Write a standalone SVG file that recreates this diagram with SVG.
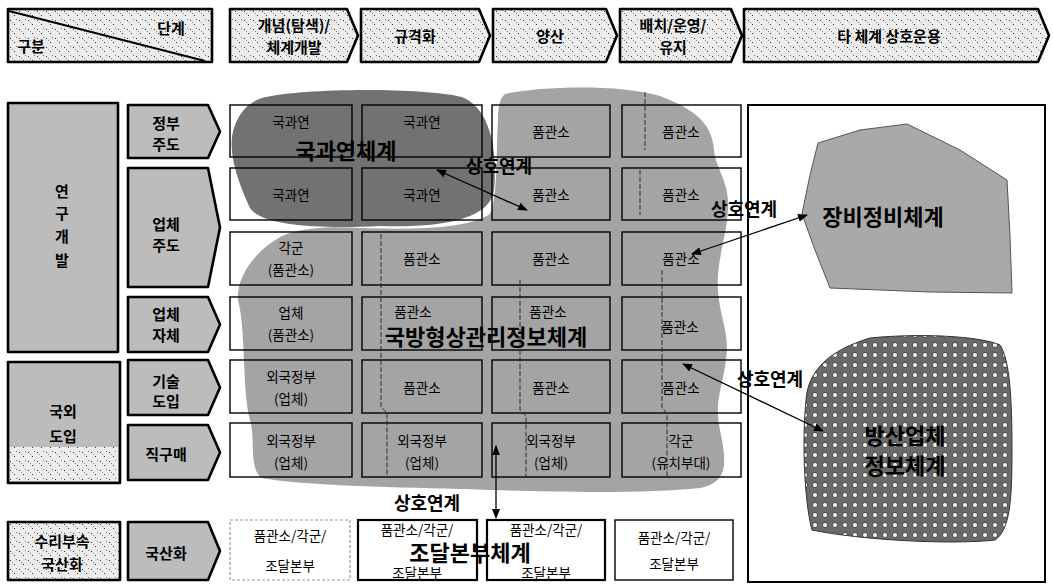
<svg xmlns="http://www.w3.org/2000/svg" width="1053" height="586" viewBox="0 0 1053 586">
<defs>
<style>
text{font-family:'Noto Sans CJK KR','Noto Sans',sans-serif;fill:#000;text-anchor:middle;dominant-baseline:central}
.hd{font-size:15px;font-weight:bold}
.lf{font-size:15px;font-weight:bold}
.cell{fill:none;stroke:#000;stroke-width:1.4}
.ct{font-size:13.5px}
.big{font-size:22px;font-weight:bold}
.lk{font-size:18px;font-weight:bold}
.box{stroke:#000;stroke-width:2.6;stroke-linejoin:round}
.gray{fill:#bcbcbc}
.spk{fill:url(#speckle)}
.conn{fill:none;stroke:#000;stroke-width:1.3;marker-start:url(#ah);marker-end:url(#ah)}
.trace{fill:none;stroke:#222;stroke-width:0.9;stroke-dasharray:5 2}
</style>
<pattern id="speckle" width="9" height="9" patternUnits="userSpaceOnUse">
<rect width="9" height="9" fill="#ececec"/>
<rect x="1" y="2" width="1" height="1" fill="#333"/>
<rect x="5" y="6" width="1" height="1" fill="#333"/>
<rect x="7" y="1" width="1" height="1" fill="#777"/>
<rect x="3" y="4" width="1" height="1" fill="#888"/>
</pattern>
<pattern id="dots" width="10" height="10" patternUnits="userSpaceOnUse">
<rect width="10" height="10" fill="#6a6a6a"/>
<circle cx="5" cy="5" r="2.6" fill="#eeeeee" stroke="#333" stroke-width="0.8"/>
</pattern>
<marker id="ah" viewBox="0 0 10 8" markerWidth="10" markerHeight="8" refX="9" refY="4" markerUnits="userSpaceOnUse" orient="auto-start-reverse">
<path d="M0,0 L10,4 L0,8 Z" fill="#000"/>
</marker>
</defs>
<rect width="1053" height="586" fill="#fff"/>

<!-- header -->
<g id="h-gubun">
<rect class="box spk" x="8" y="9" width="204" height="53"/>
<line x1="9" y1="11" x2="205" y2="61" stroke="#000" stroke-width="2"/>
<text class="hd" x="31" y="45">구분</text>
<text class="hd" x="171" y="27">단계</text>
</g>
<g id="h-concept">
<path class="box spk" d="M230,9 H347 L358,35.5 L347,62 H230 Z"/>
<text class="hd" x="294" y="24">개념(탐색)/</text>
<text class="hd" x="294" y="46">체계개발</text>
</g>
<g id="h-spec">
<path class="box spk" d="M361,9 H479 L490,35.5 L479,62 H361 Z"/>
<text class="hd" x="415" y="35">규격화</text>
</g>
<g id="h-mass">
<path class="box spk" d="M493,9 H606 L617,35.5 L606,62 H493 Z"/>
<text class="hd" x="550" y="35">양산</text>
</g>
<g id="h-deploy">
<path class="box spk" d="M620,9 H731 L742,35.5 L731,62 H620 Z"/>
<text class="hd" x="673" y="24">배치/운영/</text>
<text class="hd" x="673" y="46">유지</text>
</g>
<g id="h-interop">
<path class="box spk" d="M744,9 H1038 L1049,35.5 L1038,62 H744 Z"/>
<text class="hd" x="889" y="35">타 체계 상호운용</text>
</g>

<!-- left column -->
<g id="l-rnd">
<rect class="box gray" x="8" y="103" width="110" height="249"/>
<text class="lf" x="62" y="190">연</text>
<text class="lf" x="62" y="212">구</text>
<text class="lf" x="62" y="235">개</text>
<text class="lf" x="62" y="259">발</text>
</g>
<g id="l-gov">
<path class="box gray" d="M128,105 H208 L220,131.5 L208,158 H128 Z"/>
<text class="lf" x="166" y="122">정부</text>
<text class="lf" x="166" y="143">주도</text>
</g>
<g id="l-ind">
<path class="box gray" d="M128,168 H208 L220,227.5 L208,287 H128 Z"/>
<text class="lf" x="166" y="223">업체</text>
<text class="lf" x="166" y="244">주도</text>
</g>
<g id="l-self">
<path class="box gray" d="M128,297 H208 L220,324.5 L208,352 H128 Z"/>
<text class="lf" x="166" y="313">업체</text>
<text class="lf" x="166" y="334">자체</text>
</g>
<g id="l-foreign">
<rect class="box gray" x="8" y="362" width="112" height="121"/>
<rect x="10" y="447" width="108" height="34" fill="url(#speckle)"/>
<text class="lf" x="63" y="410">국외</text>
<text class="lf" x="63" y="435">도입</text>
</g>
<g id="l-tech">
<path class="box gray" d="M128,360 H208 L220,387.5 L208,415 H128 Z"/>
<text class="lf" x="166" y="380">기술</text>
<text class="lf" x="166" y="400">도입</text>
</g>
<g id="l-buy">
<path class="box gray" d="M128,425 H208 L220,452.5 L208,480 H128 Z"/>
<text class="lf" x="166" y="453">직구매</text>
</g>
<g id="l-parts">
<rect class="box spk" x="8" y="522" width="112" height="58"/>
<text class="lf" x="62" y="540">수리부속</text>
<text class="lf" x="62" y="563">국산화</text>
</g>
<g id="l-local">
<path class="box gray" d="M128,522 H208 L220,551 L208,580 H128 Z"/>
<text class="lf" x="166" y="552">국산화</text>
</g>

<!-- right frame -->
<rect x="748" y="105" width="297" height="477" fill="none" stroke="#000" stroke-width="2"/>

<!-- blobs -->
<g id="b-config">
<path d="M505,94 C540,86 620,84 660,96 C690,108 712,120 714,150 C716,170 730,182 728,210 C726,240 716,262 718,290 C720,320 730,332 726,360 C722,390 714,402 720,430 C726,460 730,482 700,488 C640,495 520,491 460,489 C380,487 300,485 262,478 C248,468 256,440 250,420 C242,390 246,330 238,300 C236,280 252,252 282,236 C300,228 330,226 360,228 C420,230 470,228 490,214 C498,198 496,150 498,120 C498,106 500,98 505,94 Z" fill="#a4a4a4"/>
</g>
<g id="b-add">
<path d="M262,98 C300,88 420,87 462,97 C490,108 498,150 494,190 C490,220 440,228 380,226 C320,229 262,226 250,208 C240,186 226,152 234,128 C240,110 250,102 262,98 Z" fill="#727272"/>
</g>
<g id="b-maint">
<path d="M907,124 L960,150 L1007,180 L1010,236 L1012,293 L930,292 L830,288 L815,250 L802,214 L810,175 L818,143 L860,130 Z" fill="#a9a9a9" stroke="#555" stroke-width="1"/>
</g>
<g id="b-defind">
<path d="M870,338 C920,333 980,336 1000,345 C1010,360 1012,400 1012,450 C1012,500 1010,530 995,540 C950,545 860,540 812,530 C804,500 802,440 806,400 C808,370 830,350 870,338 Z" fill="url(#dots)" stroke="#333" stroke-width="1"/>
</g>

<!-- grid cells -->
<g id="cells">
<g id="c11"><rect class="cell" x="230" y="105" width="122" height="52"/><text class="ct" x="291" y="121">국과연</text></g>
<g id="c12"><rect class="cell" x="362" y="105" width="120" height="52"/><text class="ct" x="422" y="121">국과연</text></g>
<g id="c13"><rect class="cell" x="492" y="105" width="118" height="52"/><text class="ct" x="551" y="131">품관소</text></g>
<g id="c14"><rect class="cell" x="622" y="105" width="119" height="52"/><text class="ct" x="681" y="131">품관소</text></g>
<g id="c21"><rect class="cell" x="230" y="168" width="122" height="52"/><text class="ct" x="291" y="194">국과연</text></g>
<g id="c22"><rect class="cell" x="362" y="168" width="120" height="52"/><text class="ct" x="422" y="194">국과연</text></g>
<g id="c23"><rect class="cell" x="492" y="168" width="118" height="52"/><text class="ct" x="551" y="194">품관소</text></g>
<g id="c24"><rect class="cell" x="622" y="168" width="119" height="52"/><text class="ct" x="681" y="194">품관소</text></g>
<g id="c31"><rect class="cell" x="230" y="232" width="122" height="53"/><text class="ct" x="291" y="247">각군</text><text class="ct" x="291" y="269">(품관소)</text></g>
<g id="c32"><rect class="cell" x="362" y="232" width="120" height="53"/><text class="ct" x="422" y="258">품관소</text></g>
<g id="c33"><rect class="cell" x="492" y="232" width="118" height="53"/><text class="ct" x="551" y="258">품관소</text></g>
<g id="c34"><rect class="cell" x="622" y="232" width="119" height="53"/><text class="ct" x="681" y="258">품관소</text></g>
<g id="c41"><rect class="cell" x="230" y="297" width="122" height="53"/><text class="ct" x="291" y="312">업체</text><text class="ct" x="291" y="334">(품관소)</text></g>
<g id="c42"><rect class="cell" x="362" y="297" width="120" height="53"/><text class="ct" x="413" y="311" font-size="11">품관소</text></g>
<g id="c43"><rect class="cell" x="492" y="297" width="118" height="53"/><text class="ct" x="548" y="311" font-size="11">품관소</text></g>
<g id="c44"><rect class="cell" x="622" y="297" width="119" height="53"/><text class="ct" x="680" y="326">품관소</text></g>
<g id="c51"><rect class="cell" x="230" y="360" width="122" height="53"/><text class="ct" x="291" y="376">외국정부</text><text class="ct" x="291" y="398">(업체)</text></g>
<g id="c52"><rect class="cell" x="362" y="360" width="120" height="53"/><text class="ct" x="422" y="387">품관소</text></g>
<g id="c53"><rect class="cell" x="492" y="360" width="118" height="53"/><text class="ct" x="551" y="387">품관소</text></g>
<g id="c54"><rect class="cell" x="622" y="360" width="119" height="53"/><text class="ct" x="681" y="387">품관소</text></g>
<g id="c61"><rect class="cell" x="230" y="423" width="122" height="54"/><text class="ct" x="291" y="440">외국정부</text><text class="ct" x="291" y="462">(업체)</text></g>
<g id="c62"><rect class="cell" x="362" y="423" width="120" height="54"/><text class="ct" x="422" y="440">외국정부</text><text class="ct" x="422" y="462">(업체)</text></g>
<g id="c63"><rect class="cell" x="492" y="423" width="118" height="54"/><text class="ct" x="551" y="440">외국정부</text><text class="ct" x="551" y="462">(업체)</text></g>
<g id="c64"><rect class="cell" x="622" y="423" width="119" height="54"/><text class="ct" x="681" y="440">각군</text><text class="ct" x="681" y="462">(유치부대)</text></g>
<g id="c71"><rect x="230" y="520" width="120" height="60" fill="none" stroke="#999" stroke-width="1.2" stroke-dasharray="3 2"/><text class="ct" x="290" y="535">품관소/각군/</text><text class="ct" x="290" y="565">조달본부</text></g>
<g id="c72"><rect x="358" y="520" width="119" height="60" fill="none" stroke="#000" stroke-width="2.2"/><text class="ct" x="417" y="529" font-size="12">품관소/각군/</text><text class="ct" x="417" y="572" font-size="12">조달본부</text></g>
<g id="c73"><rect x="487" y="520" width="118" height="60" fill="none" stroke="#000" stroke-width="2.2"/><text class="ct" x="546" y="529" font-size="12">품관소/각군/</text><text class="ct" x="546" y="572" font-size="12">조달본부</text></g>
<g id="c74"><rect class="cell" x="615" y="520" width="118" height="60"/><text class="ct" x="674" y="537">품관소/각군/</text><text class="ct" x="674" y="563">조달본부</text></g>
</g>

<!-- trace lines -->
<g id="traces">
<path class="trace" d="M381,234 V407 L387,413 V478"/>
<path class="trace" d="M520,280 V410 L526,416 V478"/>
<path class="trace" d="M645,92 V150 M640,170 V215 M662,270 V407 L667,414 V478"/>
</g>

<!-- system labels -->
<g id="lbl-add"><text class="big" x="346" y="149">국과연체계</text></g>
<g id="lbl-config"><text class="big" x="486" y="335">국방형상관리정보체계</text></g>
<g id="lbl-maint"><text class="big" x="883" y="215">장비정비체계</text></g>
<g id="lbl-defind"><text class="big" x="905" y="434">방산업체</text><text class="big" x="905" y="464">정보체계</text></g>
<g id="lbl-proc"><text class="big" x="470" y="550.5" font-size="17">조달본부체계</text></g>

<!-- connectors -->
<g id="connectors">
<line class="conn" x1="437" y1="170" x2="527" y2="210"/>
<line class="conn" x1="692" y1="254" x2="807" y2="215"/>
<line class="conn" x1="683" y1="364" x2="823" y2="431"/>
<line class="conn" x1="496" y1="446" x2="496" y2="518"/>
<text class="lk" x="499" y="165">상호연계</text>
<text class="lk" x="744" y="208">상호연계</text>
<text class="lk" x="770" y="378">상호연계</text>
<text class="lk" x="427" y="502">상호연계</text>
</g>
</svg>
